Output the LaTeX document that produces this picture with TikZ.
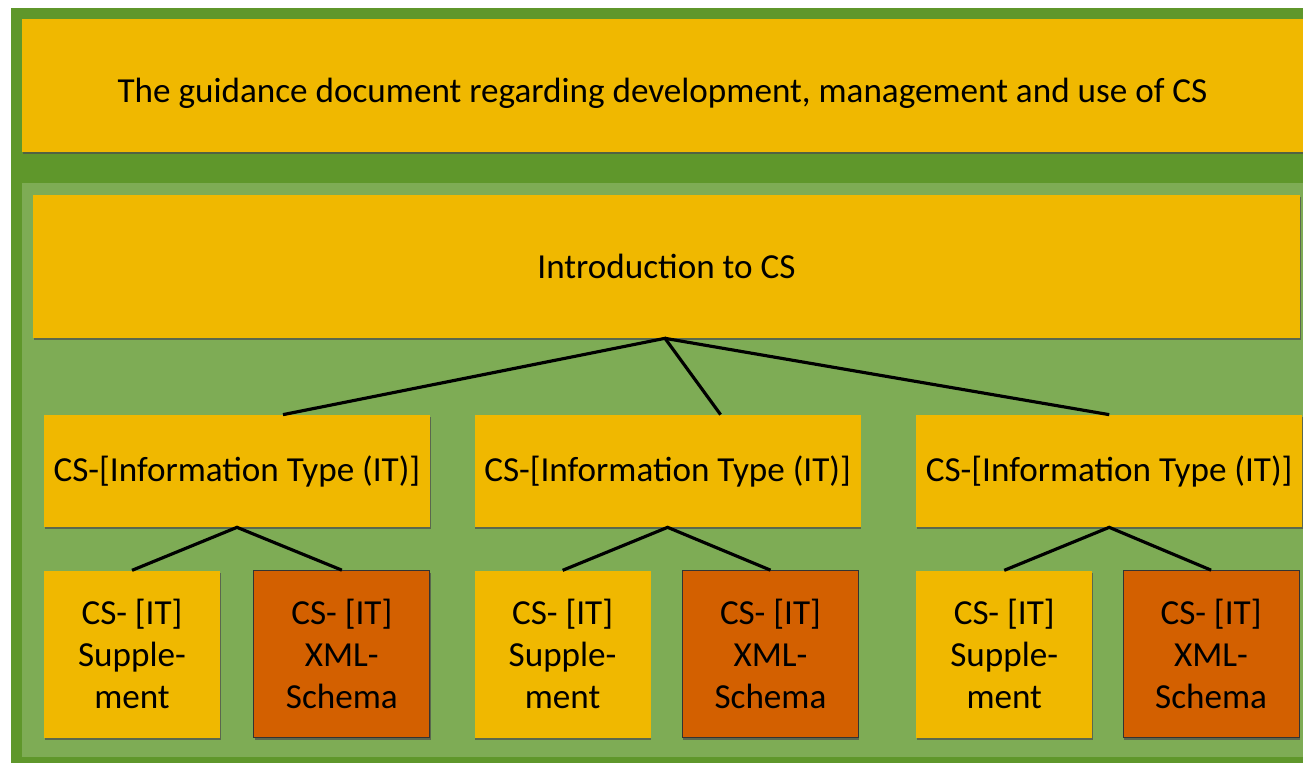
\documentclass[tikz,border=0pt]{standalone}
\usepackage{fontspec}
\setmainfont{Carlito}
\usetikzlibrary{positioning,shadows}
\definecolor{cdgreen}{HTML}{5F972B}
\definecolor{clgreen}{HTML}{7EAC55}
\definecolor{cyellow}{HTML}{F0B800}
\definecolor{corange}{HTML}{D36000}
\begin{document}
\begin{tikzpicture}[x=0.02cm,y=-0.02cm]
\tikzstyle{shade} = [drop shadow={shadow xshift=0.4pt, shadow yshift=-1.2pt, opacity=0.7, fill=black!70}]
\tikzstyle{bigbox} = [rectangle, fill=cyellow, shade, font=\fontsize{20}{24}\selectfont, align=center]
\tikzstyle{itbox} = [bigbox, minimum width=7.72cm, minimum height=2.24cm, inner sep=0pt]
\tikzstyle{suppbox} = [bigbox, minimum width=3.52cm, minimum height=3.34cm, inner sep=0pt]
\tikzstyle{xmlbox} = [suppbox, fill=corange, draw=black!80, line width=0.6pt]
\tikzstyle{link} = [line width=1.8pt, black]

\useasboundingbox (0,0) rectangle (1303,763);
\fill[white] (0,0) rectangle (1303,763);
\fill[cdgreen] (11,8) rectangle (1303,763);
\fill[clgreen] (22,183) rectangle (1303,757);

\node (guide) [bigbox, minimum width=25.62cm, minimum height=2.66cm, text height=0.82cm] at (662.5,85.5) {The guidance document regarding development, management and use of CS};
\node (intro) [bigbox, minimum width=25.34cm, minimum height=2.86cm] at (666.5,266.5) {Introduction to CS};

\node (it1) [itbox] at (237,471) {CS-[Information Type (IT)]};
\node (it2) [itbox, right=0.88cm of it1] {CS-[Information Type (IT)]};
\node (it3) [itbox, right=1.1cm of it2] {CS-[Information Type (IT)]};

\node (sup1) [suppbox, below right=0.86cm and 0cm of it1.south west] {CS- [IT]\\Supple-\\ment};
\node (xml1) [xmlbox, right=0.66cm of sup1] {CS- [IT]\\XML-\\Schema};
\node (sup2) [suppbox, below right=0.86cm and 0cm of it2.south west] {CS- [IT]\\Supple-\\ment};
\node (xml2) [xmlbox, right=0.62cm of sup2] {CS- [IT]\\XML-\\Schema};
\node (sup3) [suppbox, below right=0.86cm and 0cm of it3.south west] {CS- [IT]\\Supple-\\ment};
\node (xml3) [xmlbox, right=0.6cm of sup3] {CS- [IT]\\XML-\\Schema};

% tree links
\draw [link] ([xshift=0.92cm]it1.north) -- ([xshift=-0.03cm]intro.south) -- ([xshift=1.06cm]it2.north);
\draw [link] ([xshift=-0.03cm]intro.south) -- (it3.north);
\draw [link] (sup1.north) -- (it1.south) -- (xml1.north);
\draw [link] (sup2.north) -- (it2.south) -- (xml2.north);
\draw [link] (sup3.north) -- (it3.south) -- (xml3.north);
\end{tikzpicture}
\end{document}
